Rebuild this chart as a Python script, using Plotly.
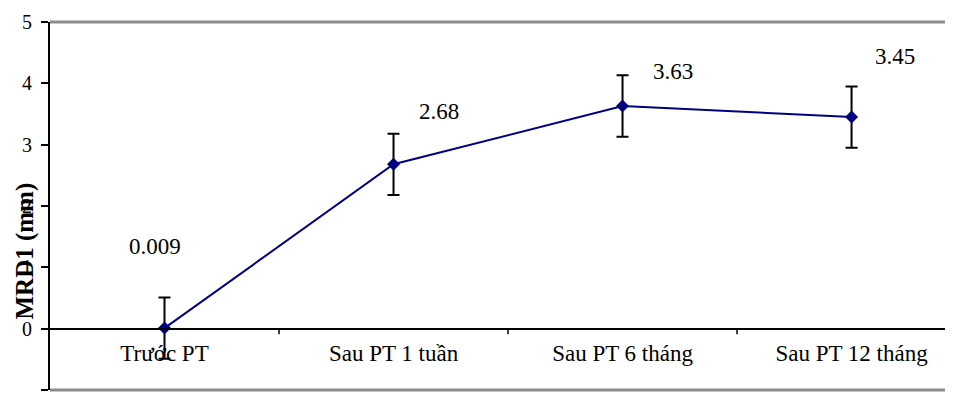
import plotly.graph_objects as go

categories = ["Trước PT", "Sau PT 1 tuần", "Sau PT 6 tháng", "Sau PT 12 tháng"]
mrd1_values = [0.009, 2.68, 3.63, 3.45]
error_sd = [0.5, 0.5, 0.5, 0.5]
y_ticks = [-1, 0, 1, 2, 3, 4, 5]

# manual label placement (offset in category units, y in data units)
label_dx = [-0.04, 0.2, 0.22, 0.19]
label_y = [1.34, 3.54, 4.19, 4.43]

FONT = "Liberation Serif"
NAVY = "#000080"

fig = go.Figure()
fig.add_trace(go.Scatter(
    x=list(range(len(categories))), y=mrd1_values,
    mode="lines+markers",
    line=dict(color=NAVY, width=2),
    marker=dict(symbol="diamond", size=10, color=NAVY),
    error_y=dict(type="data", array=error_sd, visible=True,
                 color="black", thickness=2, width=6),
    showlegend=False, cliponaxis=False,
))

for i, (v, dx, ly) in enumerate(zip(mrd1_values, label_dx, label_y)):
    fig.add_annotation(x=i + dx, y=ly, xref="x", yref="y", text=str(v),
                       showarrow=False, font=dict(family=FONT, size=23, color="black"))

fig.add_annotation(x=-0.028, y=1.27, xref="paper", yref="y", text="<b>MRD1 (mm)</b>",
                   textangle=-90, showarrow=False, xanchor="center", yanchor="middle",
                   font=dict(family=FONT, size=25, color="black"))

# plot border top/bottom (grey)
for yy in [0, 1]:
    fig.add_shape(type="line", xref="paper", yref="paper", x0=0, x1=1, y0=yy, y1=yy,
                  line=dict(color="#8c8c8c", width=3), layer="below")

# page body has an 8px margin: shrink the figure so it ends at the window edge
fig.update_layout(
    width=945, height=388,
    margin=dict(l=42, r=0, t=14, b=6, autoexpand=False),
    plot_bgcolor="white", paper_bgcolor="white",
    font=dict(family=FONT, color="black"),
    xaxis=dict(
        tickmode="array", tickvals=list(range(len(categories))), ticktext=categories,
        range=[-0.5, 3.443], showgrid=False, zeroline=False,
        showline=True, linecolor="black", linewidth=1.5,
        anchor="free", position=1/6,
        ticks="", tickfont=dict(family=FONT, size=23, color="black"),
        ticklabelstandoff=4, automargin=False,
    ),
    yaxis=dict(
        range=[-1, 5], tickvals=y_ticks, showgrid=False, zeroline=False,
        showline=True, linecolor="black", linewidth=2,
        ticks="outside", ticklen=7, tickcolor="black", tickwidth=1.5,
        tickfont=dict(family=FONT, size=20, color="black"), automargin=False,
        ticklabelstandoff=5,
    ),
)

# category boundary tick marks on the x axis at y=0
for b in [0.5, 1.5, 2.5]:
    fig.add_shape(type="line", xref="x", yref="y", x0=b, x1=b, y0=0, y1=-0.09,
                  line=dict(color="black", width=1.5))

fig.write_html("out.html")
